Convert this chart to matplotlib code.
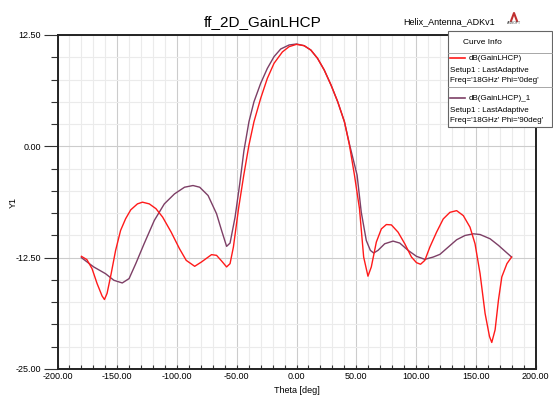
import matplotlib
matplotlib.use('Agg')
import matplotlib.pyplot as plt
from matplotlib.patches import Rectangle
from matplotlib.lines import Line2D
import numpy as np

# dB(GainLHCP), Phi = 0deg (red)
theta_phi0 = [-180, -175.4, -171.1, -166.9, -162.7, -160.7, -158.5, -155.1, -151.4,
              -147.2, -143.0, -138.7, -133.1, -128.9, -123.2, -117.6, -112.0, -104.9,
              -97.9, -92.3, -85.2, -79.6, -71.1, -66.9, -62.7, -58.5, -55.6, -52.8,
              -48.4, -44.2, -39.8, -35.6, -30.0, -24.4, -18.8, -11.8, -6.2, 0,
              6.4, 12.0, 17.6, 23.2, 28.9, 34.5, 40.1, 44.3, 48.5, 52.7, 56.2, 59.8,
              62.6, 66.8, 71.0, 75.2, 79.4, 85.0, 90.6, 96.2, 100.4, 103.8, 107.4,
              111.6, 117.2, 122.8, 128.4, 134.0, 139.6, 145.2, 149.4, 153.6, 157.8,
              161.5, 163.4, 166.2, 169.0, 171.8, 176.1, 180]
gain_phi0 = [-12.35, -12.72, -13.73, -15.4, -16.8, -17.2, -16.5, -14.3, -11.7,
             -9.44, -8.13, -7.13, -6.46, -6.27, -6.46, -7.0, -7.95, -9.63,
             -11.5, -12.8, -13.47, -12.99, -12.16, -12.24, -12.87, -13.54, -13.17, -11.3,
             -6.9, -3.3, 0.14, 2.76, 5.38, 7.63, 9.32, 10.6, 11.19, 11.45,
             11.3, 10.81, 9.88, 8.57, 6.88, 5.0, 2.76, 0.14, -3.23, -7.0, -12.43, -14.58,
             -13.54, -10.75, -9.27, -8.78, -8.82, -9.64, -10.94, -12.43, -13.06, -13.24, -12.8,
             -11.31, -9.64, -8.15, -7.41, -7.22, -7.78, -9.08, -10.94, -14.28, -18.75,
             -21.35, -22.02, -20.6, -17.26, -14.66, -13.17, -12.43]

# dB(GainLHCP)_1, Phi = 90deg (purple)
theta_phi90 = [-180, -169.7, -159.9, -152.8, -145.8, -140.1, -134.5, -127.5, -119.0,
               -110.6, -102.1, -93.7, -86.6, -81.0, -74.0, -66.9, -62.7, -58.5, -55.6,
               -51.4, -47.5, -44.0, -39.8, -35.6, -30.0, -24.4, -18.8, -13.2, -6.2, 0,
               6.4, 12.0, 17.6, 23.2, 28.9, 34.5, 40.1, 44.5, 50.7, 54.2, 58.4, 61.8,
               64.6, 68.2, 73.8, 80.8, 86.4, 93.4, 100.4, 107.4, 114.4, 120.0, 127.0,
               134.0, 141.0, 148.0, 153.6, 162.0, 169.0, 174.6, 180]
gain_phi90 = [-12.5, -13.54, -14.29, -15.04, -15.34, -14.85, -13.17, -10.93, -8.32,
              -6.46, -5.34, -4.59, -4.4, -4.59, -5.52, -7.57, -9.44, -11.23, -10.86,
              -7.95, -4.2, -0.5, 2.76, 5.0, 7.07, 8.75, 10.07, 10.93, 11.38, 11.49,
              11.3, 10.81, 9.88, 8.57, 6.88, 5.0, 2.76, 0.14, -3.23, -7.4, -10.57, -11.68,
              -11.98, -11.68, -10.94, -10.64, -10.86, -11.68, -12.35, -12.69, -12.43, -12.13, -11.31,
              -10.49, -10.01, -9.82, -9.9, -10.38, -11.12, -11.79, -12.43]

RED = '#ff1a1a'
PURPLE = '#7d3f66'
plt.rcParams['font.family'] = ['Liberation Sans', 'DejaVu Sans']

W, H = 553, 397
fig = plt.figure(figsize=(W / 100, H / 100), dpi=100)
ax = fig.add_axes([57.5 / W, 1 - 369 / H, (535.5 - 57.5) / W, (369 - 35) / H])

ax.plot(theta_phi90, gain_phi90, color=PURPLE, lw=1.0, zorder=3)
ax.plot(theta_phi0, gain_phi0, color=RED, lw=1.0, zorder=4)

ax.set_xlim(-200, 200)
ax.set_ylim(-25, 12.5)
xmaj = np.arange(-200, 201, 50)
ymaj = np.arange(-25, 12.6, 12.5)
ax.set_xticks(xmaj)
ax.set_xticks(np.arange(-200, 201, 10), minor=True)
ax.set_yticks(ymaj)
ax.set_yticks(np.arange(-25, 12.6, 2.5), minor=True)
ax.set_xticklabels(['%.2f' % v for v in xmaj])
ax.set_yticklabels(['%.2f' % v for v in ymaj])
ax.grid(which='minor', color='#ebebeb', lw=0.8)
ax.grid(which='major', color='#cccccc', lw=0.8)
ax.set_axisbelow(True)
ax.tick_params(axis='y', which='major', length=10, width=0.8, labelsize=6.5, pad=2, color='#333333')
ax.tick_params(axis='y', which='minor', length=5, width=0.8, color='#333333')
ax.tick_params(axis='x', which='both', direction='in', length=3, width=0.8, labelsize=6.5,
               pad=2, color='#333333')
for s in ax.spines.values():
    s.set_linewidth(1.4)
    s.set_color('#222222')

ax.set_xlabel('Theta [deg]', fontsize=6.5)
ax.xaxis.set_label_coords(0.5, -0.052)
ax.set_ylabel('Y1', fontsize=6.5)
ax.yaxis.set_label_coords(-0.083, 0.5)

fig.text(263 / W, 1 - 22 / H, 'ff_2D_GainLHCP', fontsize=11, ha='center', va='center')
fig.text(495 / W, 1 - 22 / H, 'Helix_Antenna_ADKv1', fontsize=6.5, ha='right', va='center')
fig.text(514 / W, 1 - 23 / H, 'ANSOFT', fontsize=2.5, ha='center', va='center', color='#444444')
fig.add_artist(Line2D([511 / W, 514 / W, 517 / W], [1 - 21 / H, 1 - 13 / H, 1 - 21 / H],
                      color='#c03030', lw=1.5))

# curve info box
x0, y0, x1, y1 = 448, 31, 552, 127
fig.add_artist(Rectangle((x0 / W, 1 - y1 / H), (x1 - x0) / W, (y1 - y0) / H,
                         facecolor='white', edgecolor='#666666', lw=0.8, zorder=10))
for yy in (52.7, 86.5):
    fig.add_artist(Line2D([x0 / W, x1 / W], [1 - yy / H] * 2, color='#999999', lw=0.6, zorder=11))
fig.text(482 / W, 1 - 42 / H, 'Curve Info', fontsize=6, ha='center', va='center', zorder=12)
entries = [(RED, 'dB(GainLHCP)', "Freq='18GHz' Phi='0deg'", 58),
           (PURPLE, 'dB(GainLHCP)_1', "Freq='18GHz' Phi='90deg'", 98)]
for col, name, freq, yy in entries:
    fig.add_artist(Line2D([450 / W, 465 / W], [1 - yy / H] * 2, color=col, lw=1.2, zorder=12))
    fig.text(469 / W, 1 - yy / H, name, fontsize=5.8, ha='left', va='center', zorder=12)
    fig.text(450 / W, 1 - (yy + 12) / H, 'Setup1 : LastAdaptive', fontsize=5.8,
             ha='left', va='center', zorder=12)
    fig.text(450 / W, 1 - (yy + 22.5) / H, freq, fontsize=5.8, ha='left', va='center', zorder=12)

fig.savefig('out.png', dpi=100)
